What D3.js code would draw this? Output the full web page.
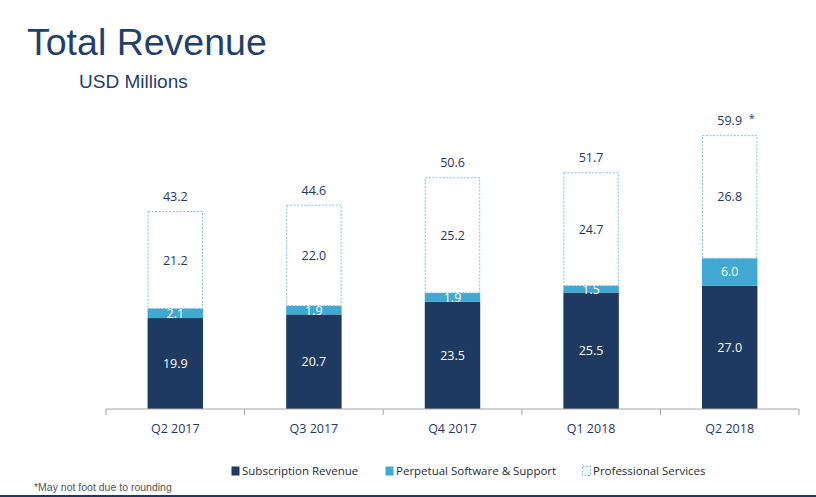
<!DOCTYPE html>
<html lang="en">
<head>
    <meta charset="UTF-8">
    <script src="https://cdnjs.cloudflare.com/ajax/libs/d3/7.8.5/d3.min.js"></script>
    <title>Total Revenue</title>
    <style>
        body { margin: 0; background: white; }
        svg { display: block; }
    </style>
</head>
<body>
<svg></svg>
<script>
    // data
    const quarters = ['Q2 2017', 'Q3 2017', 'Q4 2017', 'Q1 2018', 'Q2 2018']
    const subscription = [19.9, 20.7, 23.5, 25.5, 27.0]
    const perpetual = [2.1, 1.9, 1.9, 1.5, 6.0]
    const professional = [21.2, 22.0, 25.2, 24.7, 26.8]
    const totals = ['43.2', '44.6', '50.6', '51.7', '59.9']
    const seriesNames = ['Subscription Revenue', 'Perpetual Software & Support', 'Professional Services']

    const W = 816, H = 497
    const navy = '#1f3a60',
        blue = '#41a8d1',
        dash = '#7fc2e0',
        textNavy = '#1f3864'

    const svg = d3.select('svg')
        .attr('width', W)
        .attr('height', H)
        .style('font-family', "'Open Sans', sans-serif")

    // titles
    svg.append('text')
        .attr('x', 27).attr('y', 55)
        .style('font-family', "'Liberation Sans', Arial, sans-serif")
        .style('font-size', '37.5px')
        .attr('fill', '#1f3f6e')
        .text('Total Revenue')

    svg.append('text')
        .attr('x', 79).attr('y', 88)
        .style('font-family', "'Liberation Sans', Arial, sans-serif")
        .style('font-size', '19px')
        .attr('fill', '#1f3f6e')
        .text('USD Millions')

    const xScale = d3.scaleBand()
        .domain(quarters)
        .range([106, 799])
        .paddingInner(0.6)
        .paddingOuter(0.3)

    const yScale = d3.scaleLinear()
        .domain([0, 60])
        .range([409, 409 - 60 * 4.57])

    const rows = quarters.map((q, i) => ({
        q: q,
        sub: subscription[i],
        perp: perpetual[i],
        prof: professional[i],
        total: totals[i]
    }))

    const keys = ['sub', 'perp', 'prof']
    const stack = d3.stack().keys(keys)(rows)
    const fills = [navy, blue, 'white']

    stack.forEach((layer, k) => {
        const g = svg.append('g')
        g.selectAll('rect')
            .data(layer)
            .enter()
            .append('rect')
            .attr('x', d => xScale(d.data.q) + (k === 2 ? 0.5 : 0))
            .attr('width', xScale.bandwidth() - (k === 2 ? 1 : 0))
            .attr('y', d => yScale(d[1]))
            .attr('height', d => yScale(d[0]) - yScale(d[1]))
            .attr('fill', fills[k])
            .attr('stroke', k === 2 ? dash : 'none')
            .attr('stroke-width', 1)
            .attr('stroke-dasharray', k === 2 ? '2,1.5' : null)

        g.selectAll('text')
            .data(layer)
            .enter()
            .append('text')
            .attr('x', d => xScale(d.data.q) + xScale.bandwidth() / 2)
            .attr('y', d => (yScale(d[0]) + yScale(d[1])) / 2)
            .attr('dy', '0.36em')
            .attr('text-anchor', 'middle')
            .style('font-size', '12.5px')
            .attr('fill', k === 2 ? textNavy : 'white')
            .text(d => d.data[keys[k]].toFixed(1))
    })

    // totals on top
    svg.append('g').selectAll('text')
        .data(stack[2])
        .enter()
        .append('text')
        .attr('x', d => xScale(d.data.q) + xScale.bandwidth() / 2)
        .attr('y', d => yScale(d[1]) - 15)
        .attr('dy', '0.36em')
        .attr('text-anchor', 'middle')
        .style('font-size', '12.5px')
        .attr('fill', textNavy)
        .text(d => d.data.total)

    const last = stack[2][stack[2].length - 1]
    svg.append('text')
        .attr('x', xScale(last.data.q) + xScale.bandwidth() / 2 + 19)
        .attr('y', yScale(last[1]) - 18)
        .attr('dy', '0.36em')
        .style('font-size', '11px')
        .attr('fill', textNavy)
        .text('*')

    // x axis
    const xAxis = d3.axisBottom(xScale).tickSize(0).tickPadding(15)
    const axisG = svg.append('g')
        .attr('transform', 'translate(0,409)')
        .call(xAxis)
    axisG.select('.domain').attr('stroke', '#a6a6a6').attr('d', 'M106,0H799')
    axisG.selectAll('text')
        .style('font-family', "'Open Sans', sans-serif")
        .style('font-size', '12.5px')
        .attr('fill', textNavy)

    // boundary ticks between categories
    const bounds = d3.range(quarters.length + 1).map(i => 106 + i * xScale.step())
    svg.append('g').selectAll('line')
        .data(bounds)
        .enter()
        .append('line')
        .attr('x1', d => d).attr('x2', d => d)
        .attr('y1', 409).attr('y2', 415)
        .attr('stroke', '#a6a6a6')

    // legend
    const legendX = [231, 385, 582]
    const legend = svg.append('g')
    seriesNames.forEach((name, i) => {
        legend.append('rect')
            .attr('x', legendX[i] + 0.5).attr('y', 466.5)
            .attr('width', 8).attr('height', 9)
            .attr('fill', i === 2 ? 'white' : fills[i])
            .attr('stroke', i === 2 ? dash : 'none')
            .attr('stroke-dasharray', i === 2 ? '2,1.5' : null)
        legend.append('text')
            .attr('x', legendX[i] + 11).attr('y', 471)
            .attr('dy', '0.36em')
            .style('font-size', '11.5px')
            .attr('fill', '#1f2d3d')
            .text(name)
    })

    svg.append('text')
        .attr('x', 34).attr('y', 491)
        .style('font-family', "'Liberation Sans', Arial, sans-serif")
        .style('font-size', '10.5px')
        .attr('fill', '#555')
        .text('*May not foot due to rounding')

    svg.append('line')
        .attr('x1', 0).attr('x2', W)
        .attr('y1', 496).attr('y2', 496)
        .attr('stroke', '#1f3864')
        .attr('stroke-width', 2)
</script>
</body>
</html>
